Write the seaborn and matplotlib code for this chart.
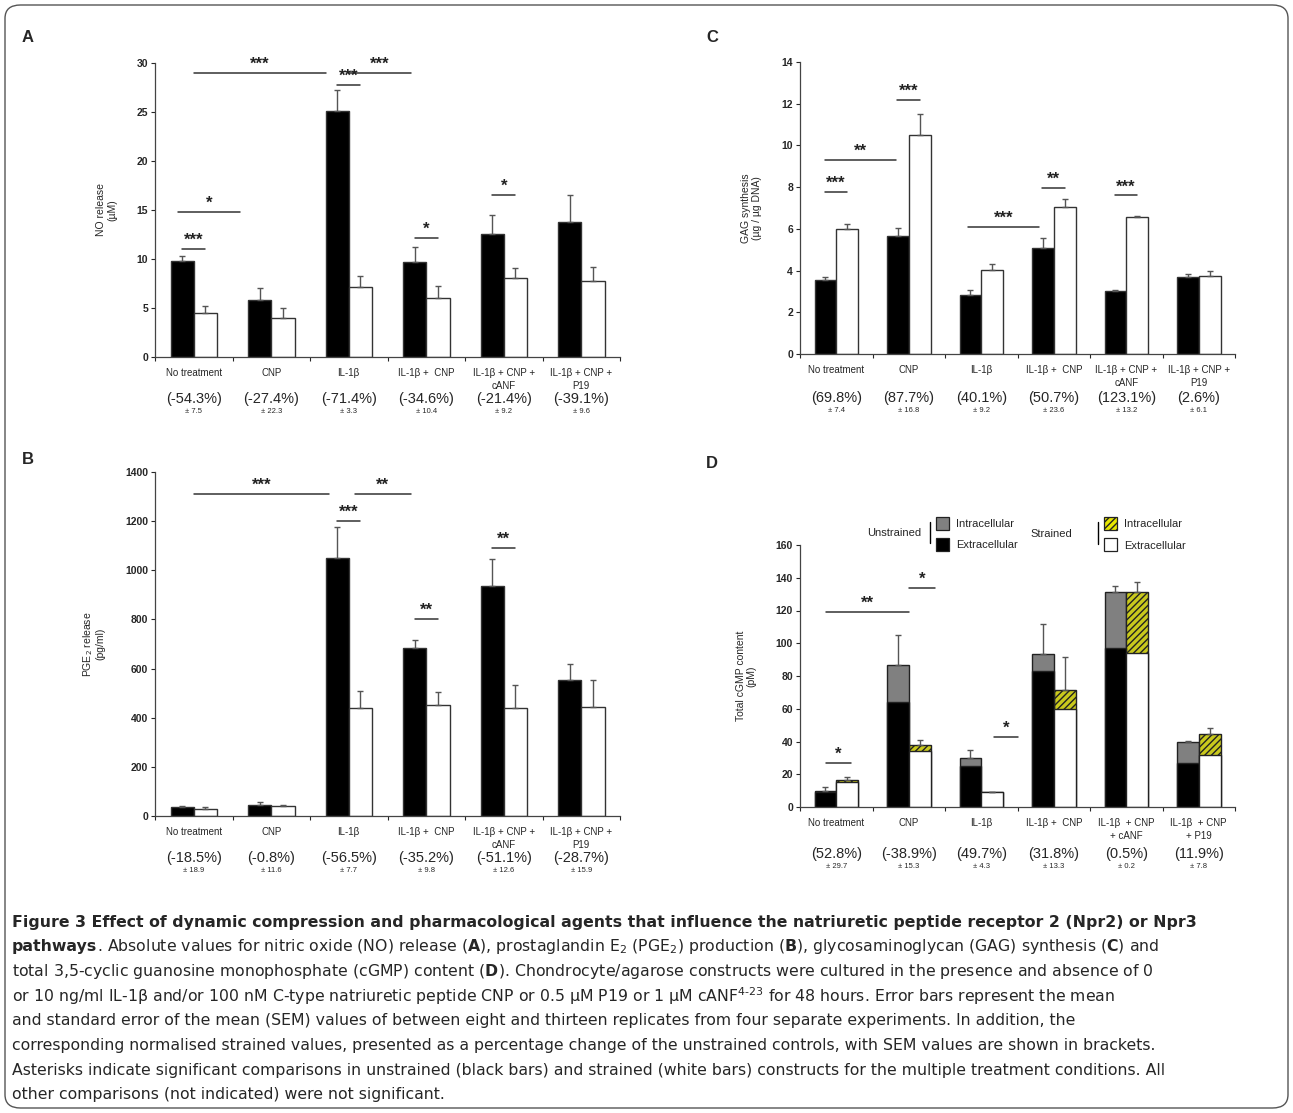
import numpy as np
import pandas as pd
import matplotlib
matplotlib.use('Agg')
import matplotlib.pyplot as plt
import seaborn as sns
from matplotlib.patches import FancyBboxPatch, Rectangle

# ---- data ----
groups = ['No treatment', 'CNP', 'IL-1β', 'IL-1β +  CNP',
          'IL-1β + CNP +\ncANF', 'IL-1β + CNP +\nP19']
groups_d = ['No treatment', 'CNP', 'IL-1β', 'IL-1β +  CNP',
            'IL-1β  + CNP\n+ cANF', 'IL-1β  + CNP\n+ P19']

no_unstr = [9.8, 5.8, 25.1, 9.7, 12.5, 13.8]
no_unstr_err = [0.5, 1.2, 2.1, 1.5, 2.0, 2.7]
no_str = [4.5, 4.0, 7.1, 6.0, 8.1, 7.8]
no_str_err = [0.7, 1.0, 1.2, 1.2, 1.0, 1.4]
no_pct = ['(-54.3%)', '(-27.4%)', '(-71.4%)', '(-34.6%)', '(-21.4%)', '(-39.1%)']
no_sem = ['± 7.5', '± 22.3', '± 3.3', '± 10.4', '± 9.2', '± 9.6']

gag_unstr = [3.55, 5.65, 2.85, 5.1, 3.0, 3.7]
gag_unstr_err = [0.15, 0.4, 0.2, 0.45, 0.07, 0.12]
gag_str = [6.0, 10.5, 4.05, 7.05, 6.55, 3.72]
gag_str_err = [0.22, 1.0, 0.27, 0.37, 0.06, 0.28]
gag_pct = ['(69.8%)', '(87.7%)', '(40.1%)', '(50.7%)', '(123.1%)', '(2.6%)']
gag_sem = ['± 7.4', '± 16.8', '± 9.2', '± 23.6', '± 13.2', '± 6.1']

pge_unstr = [35, 45, 1050, 685, 935, 555]
pge_unstr_err = [5, 10, 125, 30, 110, 65]
pge_str = [30, 42, 440, 450, 440, 445]
pge_str_err = [8, 4, 70, 55, 95, 110]
pge_pct = ['(-18.5%)', '(-0.8%)', '(-56.5%)', '(-35.2%)', '(-51.1%)', '(-28.7%)']
pge_sem = ['± 18.9', '± 11.6', '± 7.7', '± 9.8', '± 12.6', '± 15.9']

cgmp_unstr_extra = [9, 64, 25, 83, 97, 27]
cgmp_unstr_total = [10, 87, 30, 93.5, 131.5, 40]
cgmp_unstr_err = [2.5, 18, 5, 18, 3.5, 0.4]
cgmp_str_extra = [15, 34, 9, 60, 94, 32]
cgmp_str_total = [16.5, 38, 9, 71.5, 131.5, 44.5]
cgmp_str_err = [2, 3, 0.3, 20, 6, 3.5]
cgmp_pct = ['(52.8%)', '(-38.9%)', '(49.7%)', '(31.8%)', '(0.5%)', '(11.9%)']
cgmp_sem = ['± 29.7', '± 15.3', '± 4.3', '± 13.3', '± 0.2', '± 7.8']

# significance markers: (x1, x2, y, label) in group units
sig_a = [(0, 1.7, 29, '***'), (2.0, 2.8, 29, '***'), (1.85, 2.15, 27.8, '***'),
         (-0.2, 0.6, 14.8, '*'), (-0.15, 0.15, 11, '***'), (2.85, 3.15, 12.1, '*'),
         (3.85, 4.15, 16.5, '*')]
sig_c = [(-0.16, 0.15, 7.75, '***'), (-0.16, 0.83, 9.3, '**'), (0.84, 1.15, 12.2, '***'),
         (1.82, 2.79, 6.1, '***'), (2.84, 3.15, 7.95, '**'), (3.84, 4.15, 7.6, '***')]
sig_b = [(0, 1.74, 1310, '***'), (2.08, 2.8, 1310, '**'), (1.85, 2.15, 1200, '***'),
         (2.85, 3.15, 800, '**'), (3.85, 4.15, 1090, '**')]
sig_d = [(-0.14, 0.2, 27, '*'), (-0.14, 1.0, 119, '**'), (1.0, 1.36, 134, '*'),
         (2.17, 2.51, 43, '*')]

W, H = 1293, 1113
sns.set_theme(style='white')
plt.rcParams['font.family'] = ['Liberation Sans', 'DejaVu Sans']
fig = plt.figure(figsize=(W / 100, H / 100), dpi=100)

BW = 0.6


def frame(px_left, px_top, px_right, px_bottom):
    return fig.add_axes([px_left / W, 1 - px_bottom / H,
                         (px_right - px_left) / W, (px_bottom - px_top) / H])


def style_axis(ax, ymax, ystep, ylabel, labels, pct, sem, off):
    ax.set_xlim(-0.5, 5.5)
    ax.set_ylim(0, ymax)
    ax.set_yticks(np.arange(0, ymax + 1e-9, ystep))
    ax.set_yticklabels([f'{v:g}' for v in np.arange(0, ymax + 1e-9, ystep)],
                       fontsize=7.5, fontweight='bold')
    ax.set_xticks(np.arange(-0.5, 6, 1))
    ax.set_xticklabels([])
    ax.tick_params(axis='both', direction='out', length=3, width=0.8,
                   left=True, bottom=True, pad=2)
    for s in ['top', 'right']:
        ax.spines[s].set_visible(False)
    for s in ['left', 'bottom']:
        ax.spines[s].set_color('#444444')
        ax.spines[s].set_linewidth(0.9)
    ax.set_xlabel('')
    ax.set_ylabel(ylabel, fontsize=7.5, linespacing=1.1, labelpad=14)
    for i in range(6):
        ax.annotate(labels[i], (i, 0), xycoords=('data', 'axes fraction'),
                    xytext=(0, -off[0]), textcoords='offset points',
                    ha='center', va='top', fontsize=7, linespacing=1.3)
        ax.annotate(pct[i], (i, 0), xycoords=('data', 'axes fraction'),
                    xytext=(0, -off[1]), textcoords='offset points',
                    ha='center', va='center', fontsize=10.5)
        ax.annotate(sem[i], (i, 0), xycoords=('data', 'axes fraction'),
                    xytext=(0, -off[2]), textcoords='offset points',
                    ha='center', va='center', fontsize=5.5)


def add_errors(ax, tops, errs, shift):
    x = np.arange(6) + shift
    ax.errorbar(x, tops, yerr=[np.zeros(6), errs], fmt='none', ecolor='#555555',
                elinewidth=1, capsize=2.5, capthick=1)


def add_sig(ax, sigs, ymax):
    for x1, x2, y, lab in sigs:
        ax.plot([x1, x2], [y, y], color='#333333', lw=1.1, clip_on=False)
        ax.text((x1 + x2) / 2, y + ymax * 0.004, lab, ha='center', va='bottom',
                fontsize=12, fontweight='bold', color='#222222')


def paired_panel(ax, unstr, unstr_err, strained, strained_err):
    df = pd.DataFrame({'group': groups * 2,
                       'value': unstr + strained,
                       'cond': ['Unstrained'] * 6 + ['Strained'] * 6})
    sns.barplot(data=df, x='group', y='value', hue='cond', order=groups,
                hue_order=['Unstrained', 'Strained'],
                palette={'Unstrained': 'black', 'Strained': 'white'},
                edgecolor='#333333', linewidth=1, width=BW, errorbar=None,
                ax=ax, legend=False)
    add_errors(ax, unstr, unstr_err, -BW / 4)
    add_errors(ax, strained, strained_err, BW / 4)


# Panel A
axA = frame(155, 63, 620, 357)
paired_panel(axA, no_unstr, no_unstr_err, no_str, no_str_err)
style_axis(axA, 30, 5, 'NO release\n(µM)', groups, no_pct, no_sem, (8, 30, 39))
add_sig(axA, sig_a, 30)

# Panel C
axC = frame(800, 62, 1235, 354)
paired_panel(axC, gag_unstr, gag_unstr_err, gag_str, gag_str_err)
style_axis(axC, 14, 2, 'GAG synthesis\n(µg / µg DNA)', groups, gag_pct, gag_sem, (8, 32, 41))
add_sig(axC, sig_c, 14)

# Panel B
axB = frame(155, 472, 620, 816)
paired_panel(axB, pge_unstr, pge_unstr_err, pge_str, pge_str_err)
style_axis(axB, 1400, 200, 'PGE$_2$ release\n(pg/ml)', groups, pge_pct, pge_sem, (8, 30, 39))
add_sig(axB, sig_b, 1400)

# Panel D: stacked intracellular on top of extracellular
axD = frame(800, 545, 1235, 807)
tot = pd.DataFrame({'group': groups * 2, 'value': cgmp_unstr_total + cgmp_str_total,
                    'cond': ['Unstrained'] * 6 + ['Strained'] * 6})
ext = pd.DataFrame({'group': groups * 2, 'value': cgmp_unstr_extra + cgmp_str_extra,
                    'cond': ['Unstrained'] * 6 + ['Strained'] * 6})
sns.barplot(data=tot, x='group', y='value', hue='cond', order=groups,
            hue_order=['Unstrained', 'Strained'],
            palette={'Unstrained': '#808080', 'Strained': '#e6e600'},
            edgecolor='#222222', linewidth=1, width=BW, errorbar=None, ax=axD, legend=False)
for p in axD.patches[6:12]:
    p.set_hatch('/////')
sns.barplot(data=ext, x='group', y='value', hue='cond', order=groups,
            hue_order=['Unstrained', 'Strained'],
            palette={'Unstrained': 'black', 'Strained': 'white'},
            edgecolor='#222222', linewidth=1, width=BW, errorbar=None, ax=axD, legend=False)
add_errors(axD, cgmp_unstr_total, cgmp_unstr_err, -BW / 4)
add_errors(axD, cgmp_str_total, cgmp_str_err, BW / 4)
style_axis(axD, 160, 20, 'Total cGMP content\n(pM)', groups_d, cgmp_pct, cgmp_sem, (8, 34, 43))
add_sig(axD, sig_d, 160)


# legend for D
def legbox(px, py, fc, hatch=None):
    fig.patches.append(Rectangle((px / W, 1 - (py + 13) / H), 13 / W, 13 / H,
                                 transform=fig.transFigure, facecolor=fc,
                                 edgecolor='#222222', lw=0.9, hatch=hatch))


legbox(936, 517, '#808080')
legbox(936, 538, 'black')
legbox(1104, 517, '#e6e600', '/////')
legbox(1104, 538, 'white')
fs = 8
fig.text(956 / W, 1 - 524 / H, 'Intracellular', fontsize=fs, va='center')
fig.text(956 / W, 1 - 545 / H, 'Extracellular', fontsize=fs, va='center')
fig.text(1124 / W, 1 - 524 / H, 'Intracellular', fontsize=fs, va='center')
fig.text(1124 / W, 1 - 546 / H, 'Extracellular', fontsize=fs, va='center')
fig.text(867 / W, 1 - 533 / H, 'Unstrained', fontsize=fs, va='center')
fig.text(1030 / W, 1 - 534 / H, 'Strained', fontsize=fs, va='center')
fig.add_artist(plt.Line2D([930 / W] * 2, [1 - 522 / H, 1 - 543 / H], color='black', lw=1))
fig.add_artist(plt.Line2D([1098 / W] * 2, [1 - 522 / H, 1 - 544 / H], color='black', lw=1))

# panel letters
for lab, px, py in [('A', 22, 38), ('C', 706, 38), ('B', 22, 460), ('D', 706, 463)]:
    fig.text(px / W, 1 - py / H, lab, fontsize=12, fontweight='bold', va='center')

# caption
cfam = ['DejaVu Sans']
cs = 11.3
y0 = 922
dy = 24.7
fig.text(12 / W, 1 - y0 / H, "Figure 3 Effect of dynamic compression and pharmacological agents that influence the natriuretic peptide receptor 2 (Npr2) or Npr3",
         fontsize=cs, fontweight='bold', family=cfam, va='center')
t = fig.text(12 / W, 1 - (y0 + dy) / H, "pathways", fontsize=cs, fontweight='bold', family=cfam, va='center')
fig.canvas.draw()
x_end = t.get_window_extent().x1
fig.text(x_end / W, 1 - (y0 + dy) / H,
         ". Absolute values for nitric oxide (NO) release ($\\mathbf{A}$), prostaglandin E$_2$ (PGE$_2$) production ($\\mathbf{B}$), glycosaminoglycan (GAG) synthesis ($\\mathbf{C}$) and",
         fontsize=cs, family=cfam, va='center')
rest = [
    "total 3,5-cyclic guanosine monophosphate (cGMP) content ($\\mathbf{D}$). Chondrocyte/agarose constructs were cultured in the presence and absence of 0",
    "or 10 ng/ml IL-1β and/or 100 nM C-type natriuretic peptide CNP or 0.5 µM P19 or 1 µM cANF$^{4\\text{-}23}$ for 48 hours. Error bars represent the mean",
    "and standard error of the mean (SEM) values of between eight and thirteen replicates from four separate experiments. In addition, the",
    "corresponding normalised strained values, presented as a percentage change of the unstrained controls, with SEM values are shown in brackets.",
    "Asterisks indicate significant comparisons in unstrained (black bars) and strained (white bars) constructs for the multiple treatment conditions. All",
    "other comparisons (not indicated) were not significant.",
]
for k, line in enumerate(rest):
    fig.text(12 / W, 1 - (y0 + dy * (k + 2)) / H, line, fontsize=cs, family=cfam, va='center')

fig.patches.append(FancyBboxPatch((5 / W, 5 / H), 1283 / W, 1103 / H,
                                  boxstyle='round,pad=0,rounding_size=0.012',
                                  transform=fig.transFigure, facecolor='none',
                                  edgecolor='#555555', lw=1))

fig.savefig('out.png', dpi=100)
